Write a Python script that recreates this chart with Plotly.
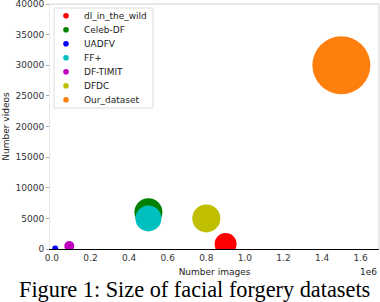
import plotly.graph_objects as go

datasets = ["dl_in_the_wild", "Celeb-DF", "UADFV", "FF+", "DF-TIMIT", "DFDC", "Our_dataset"]
num_images = [900000, 500000, 17000, 500000, 90000, 800000, 1500000]
num_videos = [800, 6000, 100, 5000, 500, 5000, 30000]

colors = ["#ff0000", "#008000", "#0000ff", "#00bfbf", "#bf00bf", "#bfbf00", "#ff7f0e"]
bubble_px = [22, 28, 6, 26, 10, 28, 58]

x_ticks = [0, 200000, 400000, 600000, 800000, 1000000, 1200000, 1400000, 1600000]
y_ticks = [0, 5000, 10000, 15000, 20000, 25000, 30000, 35000, 40000]

fig = go.Figure()
for name, xv, yv, c, s in zip(datasets, num_images, num_videos, colors, bubble_px):
    fig.add_trace(go.Scatter(x=[xv], y=[yv], mode="markers", name=name,
                             showlegend=False, cliponaxis=True, hoverinfo="skip",
                             marker=dict(color=c, size=s, line=dict(width=0), opacity=1)))

# plot area in pixels: x 50..379, y 4..249
def px(X):
    return (X - 50) / 329.0

def py(Y):
    return (249 - Y) / 245.0

shapes = [
    dict(type="line", xref="paper", yref="paper", x0=0, x1=1, y0=1, y1=1,
         line=dict(color="#e8e8e8", width=2)),
    dict(type="line", xref="paper", yref="paper", x0=1, x1=1, y0=0, y1=1,
         line=dict(color="#e8e8e8", width=2)),
    dict(type="rect", xref="paper", yref="paper", x0=px(54), x1=px(153),
         y0=py(108), y1=py(8), fillcolor="white", line=dict(color="#dcdcdc", width=1),
         layer="above"),
]
annotations = []
for i, (name, c) in enumerate(zip(datasets, colors)):
    yrow = py(15.7 + 14 * i)
    shapes.append(dict(type="circle", xref="paper", yref="paper", xsizemode="pixel",
                       ysizemode="pixel", xanchor=px(66), yanchor=yrow,
                       x0=-2.8, x1=2.8, y0=-2.8, y1=2.8, fillcolor=c,
                       line=dict(width=0), layer="above"))
    annotations.append(dict(text=name, xref="paper", yref="paper", x=px(82), y=yrow,
                            xanchor="left", yanchor="middle", showarrow=False,
                            font=dict(size=9, color="#222")))

annotations += [
    dict(text="1e6", xref="paper", yref="paper", x=1, y=py(272), xanchor="right",
         yanchor="middle", showarrow=False, font=dict(size=9, color="#222")),
    dict(text="Figure 1: Size of facial forgery datasets", xref="paper", yref="paper",
         x=px(194), y=py(289), xanchor="center", yanchor="middle", showarrow=False,
         font=dict(family="Liberation Serif", size=22.3, color="black")),
]

fig.update_layout(
    width=380, height=302,
    margin=dict(l=50, r=1, t=4, b=53),
    paper_bgcolor="white", plot_bgcolor="white",
    font=dict(family="DejaVu Sans", size=9, color="#333"),
    showlegend=False,
    hovermode=False,
    xaxis=dict(range=[-10000, 1695000], tickvals=x_ticks,
               ticktext=[f"{v/1e6:.1f}" for v in x_ticks],
               showgrid=False, zeroline=False, showline=True, linecolor="black",
               linewidth=1, mirror=False, ticks="", tickfont=dict(size=9, color="#333"),
               ticklabeloverflow="allow", automargin=False,
               title=dict(text="Number images", font=dict(size=9, color="#222"), standoff=6)),
    yaxis=dict(range=[0, 40000], tickvals=y_ticks, ticktext=[str(v) for v in y_ticks],
               showgrid=False, zeroline=False, showline=True, linecolor="#e8e8e8",
               linewidth=1, ticks="outside", ticklen=3, tickcolor="#aaaaaa",
               tickfont=dict(size=9, color="#333"), ticklabeloverflow="allow",
               automargin=False,
               title=dict(text="Number videos", font=dict(size=9, color="#222"), standoff=4)),
    shapes=shapes,
    annotations=annotations,
)

fig.write_html("out.html", config={"displayModeBar": False},
               post_script="document.body.style.margin='0';")
